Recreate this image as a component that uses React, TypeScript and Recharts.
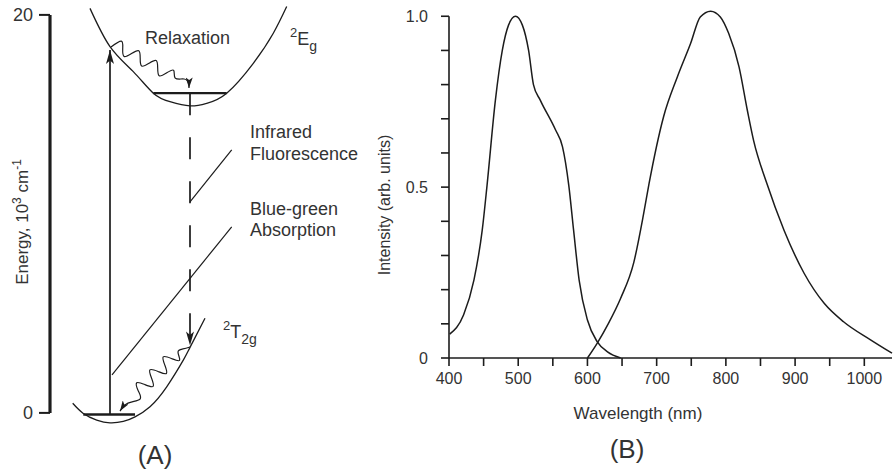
import React from 'react'
import { ComposedChart, LineChart, Line, XAxis, YAxis, ReferenceLine } from 'recharts'

const FONT = '"Liberation Sans", Arial, Helvetica, sans-serif'
const INK = '#1c1c1c'
const TEXT = '#333333'

// (A) energy diagram: configuration coordinate q (arb.) vs energy (10^3 cm^-1)
const energyTicks = [0, 20]
const upperWellQ = [4.0, 6.0, 8.33, 10.33, 12.0, 14.0, 15.67, 17.67, 20.33, 22.33, 23.67]
const upperWellE = [20.33, 18.41, 17.15, 16.07, 15.64, 15.43, 15.56, 16.07, 17.57, 19.08, 20.42]
const lowerWellQ = [2.27, 3.33, 4.67, 6.0, 7.33, 8.5, 10.0, 11.67, 13.33, 14.0, 15.5]
const lowerWellE = [0.49, -0.02, -0.35, -0.49, -0.42, -0.19, 0.32, 1.32, 2.66, 3.3, 4.76]
const upperLevelQ = [10.33, 17.67]
const upperLevelE = [16.07, 16.07]
const groundLevelQ = [3.33, 8.5]
const groundLevelE = [-0.07, -0.07]
const pumpQ = [6.0, 6.0]
const pumpE = [-0.07, 18.24]
const emitQ = [14.0, 14.0]
const emitE = [16.07, 3.4]
const relaxQ = [6.1, 7.13, 7.27, 7.42, 8.15, 8.88, 9.02, 9.17, 9.9, 10.62, 10.77, 10.92, 11.64, 12.37, 12.52, 13.4, 13.85, 13.9]
const relaxE = [18.39, 18.68, 18.3, 17.91, 18.06, 18.2, 17.81, 17.43, 17.57, 17.71, 17.32, 16.94, 17.08, 17.22, 16.83, 16.78, 16.58, 16.33]
const decayQ = [14.0, 13.3, 12.8, 12.96, 12.14, 11.32, 11.48, 11.64, 10.81, 9.99, 10.15, 10.31, 9.49, 8.67, 8.83, 8.99, 7.8, 7.0]
const decayE = [3.32, 3.22, 3.07, 2.65, 2.74, 2.82, 2.41, 1.99, 2.09, 2.17, 1.76, 1.34, 1.43, 1.52, 1.11, 0.69, 0.5, 0.1]
const irPointerQ = [14.0, 18.17]
const irPointerE = [10.6, 13.22]
const bgPointerQ = [6.2, 18.17]
const bgPointerE = [1.91, 9.35]

// (B) spectra, wavelength in nm
const nmTicks = [400, 450, 500, 550, 600, 650, 700, 750, 800, 850, 900, 950, 1000]
const intensityTicks = [0, 0.1, 0.2, 0.3, 0.4, 0.5, 0.6, 0.7, 0.8, 0.9, 1.0]
const absNm = [401, 421, 436, 448, 455, 467, 477, 486, 496, 506, 515, 522, 532, 554, 564, 573, 580, 588, 600, 614, 629, 648]
const absIntensity = [0.07, 0.126, 0.228, 0.374, 0.506, 0.754, 0.9, 0.974, 1.0, 0.974, 0.9, 0.8, 0.754, 0.667, 0.618, 0.506, 0.374, 0.228, 0.111, 0.048, 0.018, 0.0]
const emNm = [600, 614, 630, 648, 667, 681, 689, 710, 730, 749, 763, 778, 792, 804, 819, 831, 840, 859, 884, 913, 942, 970, 1009, 1040]
const emIntensity = [0.0, 0.043, 0.1, 0.175, 0.28, 0.42, 0.51, 0.706, 0.823, 0.92, 0.998, 1.015, 0.998, 0.95, 0.852, 0.725, 0.637, 0.512, 0.374, 0.248, 0.16, 0.106, 0.053, 0.014]

const qe = (q: number[], e: number[]) => q.map((v, i) => ({ q: v, e: e[i] }))
const spec = (nm: number[], y: number[]) => nm.map((v, i) => ({ nm: v, y: y[i] }))

function Txt({ x, cy, size = 18, center = false, rotate = false, children }: any) {
  return (
    <div
      style={{
        position: 'absolute',
        left: x,
        top: cy,
        fontSize: size,
        lineHeight: 1,
        whiteSpace: 'nowrap',
        color: TEXT,
        fontFamily: FONT,
        transform: rotate
          ? 'translate(-50%, -50%) rotate(-90deg)'
          : center
          ? 'translate(-50%, -50%)'
          : 'translateY(-50%)',
      }}
    >
      {children}
    </div>
  )
}

const sup = (s: string, size = 12, top = -8) => (
  <span style={{ fontSize: size, position: 'relative', top }}>{s}</span>
)

const thin = { dot: false, activeDot: false, isAnimationActive: false, stroke: INK, fill: 'none' } as const

export default function App() {
  const tickStyle = { fill: TEXT, fontSize: 16, fontFamily: FONT }
  return (
    <div style={{ position: 'absolute', left: 0, top: 0, width: 893, height: 474, background: '#fff', overflow: 'hidden' }}>
      <svg width={0} height={0} style={{ position: 'absolute' }}>
        <defs>
          <marker id="headBig" viewBox="0 0 14 8" refX={14} refY={4} markerWidth={14} markerHeight={8} markerUnits="userSpaceOnUse" orient="auto">
            <path d="M0,0 L14,4 L0,8 L3.5,4 z" fill={INK} />
          </marker>
          <marker id="headSmall" viewBox="0 0 12 8" refX={12} refY={4} markerWidth={11} markerHeight={7} markerUnits="userSpaceOnUse" orient="auto">
            <path d="M0,0 L12,4 L0,8 L3,4 z" fill={INK} />
          </marker>
        </defs>
      </svg>

      {/* (A) wells, levels and transitions; q = 0 sits on the energy axis */}
      <div style={{ position: 'absolute', left: 0, top: 0 }}>
        <ComposedChart width={370} height={474} margin={{ top: 0, right: 0, bottom: 49, left: 0 }}>
          <XAxis type="number" dataKey="q" domain={[-5, 32]} hide />
          <YAxis type="number" domain={[-0.6, 20.75]} hide />
          <Line {...thin} data={qe(upperWellQ, upperWellE)} dataKey="e" type="natural" strokeWidth={1.3} />
          <Line {...thin} data={qe(lowerWellQ, lowerWellE)} dataKey="e" type="natural" strokeWidth={1.3} />
          <Line {...thin} data={qe(upperLevelQ, upperLevelE)} dataKey="e" type="linear" strokeWidth={2.4} />
          <Line {...thin} data={qe(groundLevelQ, groundLevelE)} dataKey="e" type="linear" strokeWidth={2.4} />
          <Line {...thin} data={qe(pumpQ, pumpE)} dataKey="e" type="linear" strokeWidth={1.7} markerEnd="url(#headBig)" />
          <Line {...thin} data={qe(emitQ, emitE)} dataKey="e" type="linear" strokeWidth={1.7} strokeDasharray="22 22" markerEnd="url(#headBig)" />
          <Line {...thin} data={qe(relaxQ, relaxE)} dataKey="e" type="natural" strokeWidth={1.2} markerEnd="url(#headSmall)" />
          <Line {...thin} data={qe(decayQ, decayE)} dataKey="e" type="natural" strokeWidth={1.2} markerEnd="url(#headSmall)" />
          <ReferenceLine segment={[{ x: 0, y: 0 }, { x: 0, y: 20 }]} ifOverflow="visible" stroke={INK} strokeWidth={2.5} />
        </ComposedChart>
      </div>

      {/* (A) energy axis 0..20 and label pointers, same scale */}
      <div style={{ position: 'absolute', left: 0, top: 0, pointerEvents: 'none' }}>
        <LineChart width={370} height={474} margin={{ top: 14.9, right: 0, bottom: 31.1, left: 0 }}>
          <XAxis type="number" dataKey="q" domain={[0, 32]} height={30} axisLine={false} tickLine={false} tick={false} />
          <YAxis
            type="number"
            domain={[0, 20]}
            ticks={energyTicks}
            width={50}
            tickSize={11}
            tickMargin={6}
            axisLine={{ stroke: INK, strokeWidth: 2.5 }}
            tickLine={{ stroke: INK, strokeWidth: 2 }}
            tick={{ ...tickStyle, fontSize: 18 }}
          />
          <ReferenceLine segment={[{ x: 0, y: 0 }, { x: 0, y: 20 }]} ifOverflow="visible" stroke={INK} strokeWidth={2.5} />
          <Line {...thin} data={qe(irPointerQ, irPointerE)} dataKey="e" type="linear" strokeWidth={1.2} />
          <Line {...thin} data={qe(bgPointerQ, bgPointerE)} dataKey="e" type="linear" strokeWidth={1.2} />
        </LineChart>
      </div>

      {/* (B) spectra */}
      <div style={{ position: 'absolute', left: 370, top: 0 }}>
        <LineChart width={523} height={474} margin={{ top: 6, right: 1, bottom: 46, left: 0 }}>
          <XAxis
            type="number"
            dataKey="nm"
            domain={[400, 1040]}
            ticks={nmTicks}
            tickFormatter={(v: number) => (v % 100 === 0 ? String(v) : '')}
            height={70}
            tickSize={8}
            tickMargin={7}
            axisLine={{ stroke: INK, strokeWidth: 1.6 }}
            tickLine={{ stroke: INK, strokeWidth: 1.6 }}
            tick={tickStyle}
          />
          <YAxis
            type="number"
            domain={[0, 1.03]}
            ticks={intensityTicks}
            tickFormatter={(v: number) => (v === 0 ? '0' : v === 0.5 ? '0.5' : v === 1 ? '1.0' : '')}
            width={79}
            tickSize={8}
            tickMargin={13}
            axisLine={false}
            tickLine={{ stroke: INK, strokeWidth: 1.6 }}
            tick={tickStyle}
          />
          <ReferenceLine segment={[{ x: 400, y: 0 }, { x: 400, y: 1 }]} stroke={INK} strokeWidth={1.6} />
          <Line {...thin} data={spec(absNm, absIntensity)} dataKey="y" type="monotone" strokeWidth={1.5} />
          <Line {...thin} data={spec(emNm, emIntensity)} dataKey="y" type="monotone" strokeWidth={1.5} />
        </LineChart>
      </div>

      {/* (A) annotations */}
      <Txt x={145} cy={37.5}>Relaxation</Txt>
      <Txt x={290} cy={38.5}>
        {sup('2', 13, -8)}E{sup('g', 14, 6)}
      </Txt>
      <Txt x={250} cy={131.5}>Infrared</Txt>
      <Txt x={250} cy={154}>Fluorescence</Txt>
      <Txt x={250} cy={208.5}>Blue-green</Txt>
      <Txt x={250} cy={230}>Absorption</Txt>
      <Txt x={223} cy={332}>
        {sup('2', 13, -8)}T{sup('2g', 14, 6)}
      </Txt>
      <Txt x={21.5} cy={222} size={17} rotate>
        Energy, 10{sup('3', 12, -7)} cm{sup('-1', 12, -7)}
      </Txt>
      <Txt x={155} cy={455} size={26} center>(A)</Txt>

      {/* (B) annotations */}
      <Txt x={385} cy={205} size={16} rotate>Intensity (arb. units)</Txt>
      <Txt x={638} cy={412.5} size={17} center>Wavelength (nm)</Txt>
      <Txt x={627} cy={448.5} size={26} center>(B)</Txt>
    </div>
  )
}
